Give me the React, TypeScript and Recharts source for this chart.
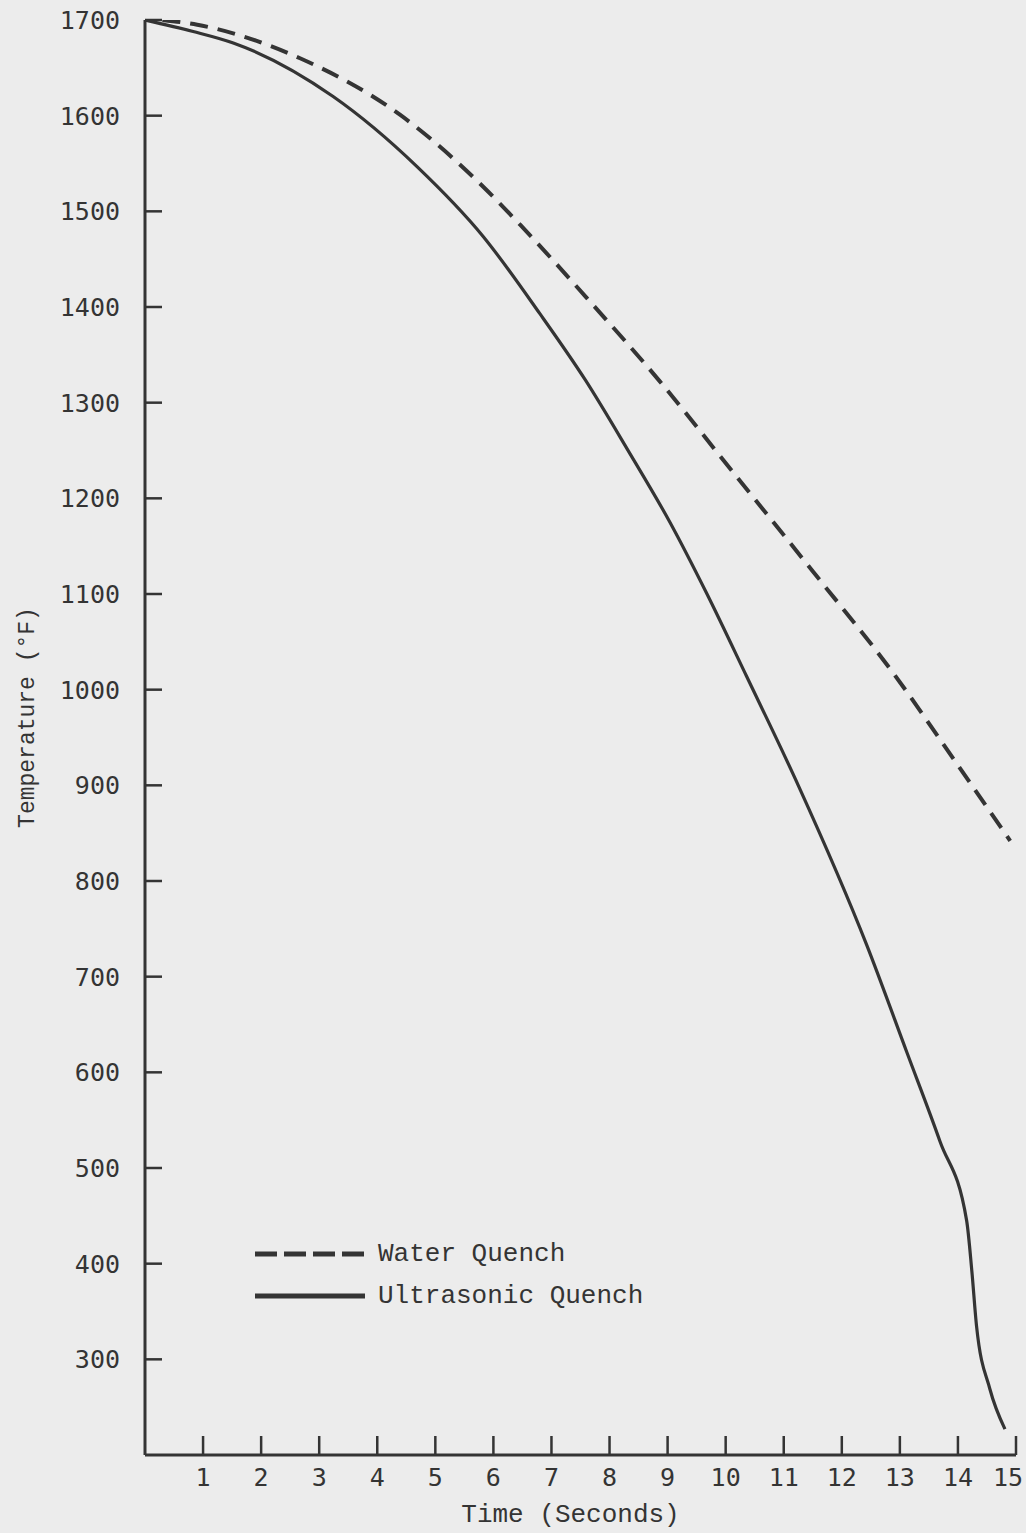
import React from 'react'
import { LineChart, Line, XAxis, YAxis, Legend } from 'recharts'

// time axis (seconds) and temperature axis (°F) ticks
const timeTicks = [1, 2, 3, 4, 5, 6, 7, 8, 9, 10, 11, 12, 13, 14, 15]
const tempTicks = [300, 400, 500, 600, 700, 800, 900, 1000, 1100, 1200, 1300, 1400, 1500, 1600, 1700]

const seriesNames = ['Water Quench', 'Ultrasonic Quench']

// Water Quench (dashed)
const waterTime = [0.3, 0.9, 2.67, 4.39, 5.82, 6.46, 7.63, 8.87, 10.13, 11.51, 12.89, 13.92, 14.9]
const waterTemp = [1700, 1695, 1660, 1601, 1526, 1486, 1408, 1322, 1227, 1123, 1017, 928, 842]

// Ultrasonic Quench (solid)
const ultraTime = [0, 0.83, 1.52, 3.24, 4.68, 5.82, 6.8, 7.58, 8.3, 9.04, 9.67, 10.36, 11.25, 12.43, 13.12, 13.69, 14.15, 14.24, 14.32, 14.55, 14.81]
const ultraTemp = [1700, 1688, 1676, 1620, 1547, 1474, 1393, 1324, 1252, 1175, 1101, 1014, 900, 733, 621, 528, 445, 392, 335, 269, 227]

const waterData = waterTime.map((t, i) => ({ t, temp: waterTemp[i] }))
const ultraData = ultraTime.map((t, i) => ({ t, temp: ultraTemp[i] }))

const INK = '#343434'
const PAPER = '#ececec'
const TYPEWRITER = '"Liberation Mono", "Courier New", monospace'
const GOTHIC = '"DejaVu Sans Mono", monospace'

const YTitle = (props: any) => {
  const vb = props.viewBox || { x: 0, y: 20, width: 145, height: 1435 }
  const cx = vb.x + 28
  const cy = vb.y + vb.height / 2 - 20
  return (
    <text
      x={cx}
      y={cy}
      transform={`rotate(-90 ${cx} ${cy})`}
      textAnchor="middle"
      dominantBaseline="central"
      fill={INK}
      fontFamily={TYPEWRITER}
      fontSize={23}
    >
      Temperature (°F)
    </text>
  )
}

const XTitle = (props: any) => {
  const vb = props.viewBox || { x: 145, y: 1455, width: 871, height: 78 }
  return (
    <text
      x={vb.x + vb.width / 2 - 10}
      y={vb.y + 67}
      textAnchor="middle"
      fill={INK}
      fontFamily={TYPEWRITER}
      fontSize={26}
    >
      Time (Seconds)
    </text>
  )
}

// last label sits left of its tick, as on the original sheet
const XTick = (props: any) => {
  const { x, y, payload } = props
  const last = payload.value === timeTicks[timeTicks.length - 1]
  return (
    <text
      x={x}
      y={y}
      dx={last ? -8 : 0}
      dy="0.75em"
      textAnchor="middle"
      fill={INK}
      fontFamily={GOTHIC}
      fontSize={25}
    >
      {payload.value}
    </text>
  )
}

const LegendContent = ({ payload }: any) => {
  const items = [...(payload || [])].sort(
    (a: any, b: any) => seriesNames.indexOf(a.value) - seriesNames.indexOf(b.value)
  )
  return (
    <div style={{ fontFamily: TYPEWRITER, fontSize: 26, color: INK }}>
      {items.map((entry: any) => (
        <div key={entry.value} style={{ display: 'flex', alignItems: 'center', height: 42 }}>
          <svg width={110} height={10} style={{ marginRight: 13 }}>
            <line
              x1={0}
              y1={5}
              x2={110}
              y2={5}
              stroke={entry.color || INK}
              strokeWidth={5}
              strokeDasharray={entry.value === seriesNames[0] ? '22 7' : undefined}
            />
          </svg>
          <span>{entry.value}</span>
        </div>
      ))}
    </div>
  )
}

function App() {
  return (
    <div style={{ position: 'absolute', top: 0, left: 0, width: 1026, height: 1533, background: PAPER }}>
      <LineChart width={1026} height={1533} margin={{ top: 20, right: 10, bottom: 0, left: 0 }}>
        <XAxis
          type="number"
          dataKey="t"
          domain={[0, 15]}
          ticks={timeTicks}
          allowDataOverflow
          height={78}
          stroke={INK}
          strokeWidth={3}
          tickSize={-19}
          tickMargin={31}
          tick={<XTick />}
          tickLine={{ stroke: INK, strokeWidth: 2.5 }}
          label={{ content: XTitle }}
        />
        <YAxis
          type="number"
          domain={[200, 1700]}
          ticks={tempTicks}
          allowDataOverflow
          width={145}
          stroke={INK}
          strokeWidth={3}
          tickSize={-17}
          tickMargin={42}
          tick={{ fontSize: 25, fontFamily: GOTHIC, fill: INK }}
          tickLine={{ stroke: INK, strokeWidth: 2.5 }}
          label={{ content: YTitle }}
        />
        <Legend
          layout="horizontal"
          verticalAlign="middle"
          align="center"
          wrapperStyle={{ left: 255, top: 1233, width: 'auto' }}
          content={<LegendContent />}
        />
        <Line
          data={waterData}
          dataKey="temp"
          name={seriesNames[0]}
          type="monotone"
          stroke={INK}
          strokeWidth={4}
          strokeDasharray="18 10"
          dot={false}
          activeDot={false}
          isAnimationActive={false}
        />
        <Line
          data={ultraData}
          dataKey="temp"
          name={seriesNames[1]}
          type="monotone"
          stroke={INK}
          strokeWidth={3.2}
          dot={false}
          activeDot={false}
          isAnimationActive={false}
        />
      </LineChart>
    </div>
  )
}

export default App
